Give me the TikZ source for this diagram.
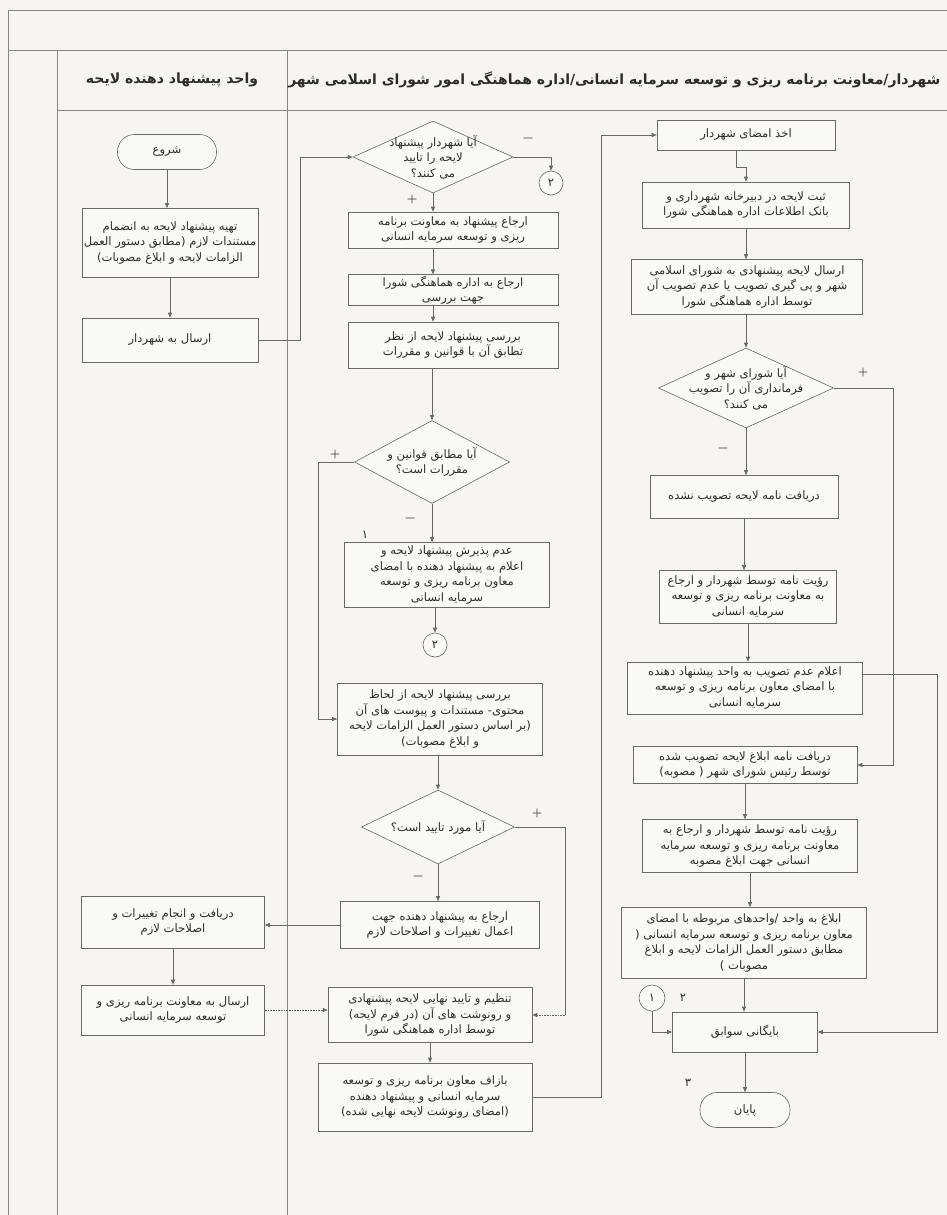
\documentclass[tikz,border=0pt]{standalone}
\usepackage{fontspec}
\usetikzlibrary{arrows.meta,shapes.geometric,calc}
\newfontfamily\arabicfont[Script=Arabic]{DejaVu Sans}
\TeXXeTstate=1
\newcommand{\fs}{\arabicfont\fontsize{11.6}{15.5}\selectfont}
\newcommand{\fh}{\arabicfont\bfseries\fontsize{14}{16}\selectfont}
\definecolor{bgc}{RGB}{246,245,241}
\definecolor{boxc}{RGB}{249,249,246}
\definecolor{linec}{RGB}{105,105,105}
\definecolor{txtc}{RGB}{45,45,45}
\tikzset{
  box/.style={draw=linec, fill=boxc, line width=0.6pt, align=center, inner sep=1pt, font=\fs, text=txtc},
  term/.style={box, rounded corners=17pt},
  dia/.style={draw=linec, fill=boxc, line width=0.6pt, diamond, inner sep=0pt},
  dtext/.style={align=center, font=\fs, text=txtc},
  conn/.style={draw=linec, line width=0.6pt, circle, fill=boxc, inner sep=0pt, minimum size=24pt, font=\fs, text=txtc},
  arr/.style={draw=linec, line width=0.6pt, -{Triangle[length=5pt,width=4pt]}},
  ln/.style={draw=linec, line width=0.6pt},
  lane/.style={draw=linec!80, line width=0.7pt},
  sign/.style={font=\fontsize{12}{12}\selectfont\bfseries, text=txtc},
  num/.style={font=\fs, text=txtc}
}
\begin{document}
\begin{tikzpicture}[x=1pt,y=-1pt]
\useasboundingbox (0,0) rectangle (947,1215);
\fill[bgc] (0,0) rectangle (947,1215);
% lanes
\coordinate (g0) at (8,10);
\coordinate (g1) at (8,50);
\coordinate (g2) at (57,50);
\coordinate (g3) at (287,50);
\coordinate (g4) at (947,50);
\coordinate (g5) at (57,110);
\coordinate (g6) at (947,110);
\coordinate (g7) at (947,10);
\draw[lane] (g0) -- (g7);
\draw[lane] (g1) -- (g4);
\draw[lane] (g5) -- (g6);
\draw[lane] (g0) -- (8,1215);
\draw[lane] (g2) -- (57,1215);
\draw[lane] (g3) -- (287,1215);
\node[font=\fh, text=txtc] (h1) at (172,80) {\beginR واحد پیشنهاد دهنده لایحه\endR};
\node[font=\fh, text=txtc, anchor=east] (h2) at (944,80) {\beginR شهردار/معاونت برنامه ریزی و توسعه سرمایه انسانی/اداره هماهنگی امور شورای اسلامی شهر\endR};

% left lane
\node[term, minimum width=99pt, minimum height=35pt] (start) at (167,152) {\beginR شروع\endR};
\node[box, minimum width=176pt, minimum height=69pt] (L1) at (170,243) {\beginR تهیه پیشنهاد لایحه به انضمام\endR\\\beginR مستندات لازم (مطابق دستور العمل\endR\\\beginR الزامات لایحه و ابلاغ مصوبات)\endR};
\node[box, minimum width=176pt, minimum height=44pt] (L2) at (170,340) {\beginR ارسال به شهردار\endR};
\node[box, minimum width=183pt, minimum height=52pt] (L3) at (173,922) {\beginR دریافت و انجام تغییرات و\endR\\\beginR اصلاحات لازم\endR};
\node[box, minimum width=183pt, minimum height=50pt] (L4) at (173,1010) {\beginR ارسال به معاونت برنامه ریزی و\endR\\\beginR توسعه سرمایه انسانی\endR};

% middle lane
\node[dia, minimum width=160pt, minimum height=72pt, label={[dtext]center:{\beginR آیا شهردار پیشنهاد\endR\\\beginR لایحه را تایید\endR\\\beginR می کنند؟\endR}}] (D1) at (433,157) {};
\node[conn] (C2a) at (551,183) {۲};
\node[box, minimum width=210pt, minimum height=36pt] (M1) at (453,230) {\beginR ارجاع پیشنهاد به معاونت برنامه\endR\\\beginR ریزی و توسعه سرمایه انسانی\endR};
\node[box, minimum width=210pt, minimum height=28pt] (M2) at (453,290) {\beginR ارجاع به اداره هماهنگی شورا\endR\\\beginR جهت بررسی\endR};
\node[box, minimum width=210pt, minimum height=46pt] (M3) at (453,345) {\beginR بررسی پیشنهاد لایحه از نظر\endR\\\beginR تطابق آن با قوانین و مقررات\endR};
\node[dia, minimum width=155pt, minimum height=83pt, label={[dtext]center:{\beginR آیا مطابق قوانین و\endR\\\beginR مقررات است؟\endR}}] (D2) at (432,462) {};
\node[box, minimum width=205pt, minimum height=65pt] (M4) at (447,575) {\beginR عدم پذیرش پیشنهاد لایحه و\endR\\\beginR اعلام به پیشنهاد دهنده با امضای\endR\\\beginR معاون برنامه ریزی و توسعه\endR\\\beginR سرمایه انسانی\endR};
\node[conn] (C2b) at (435,645) {۲};
\node[box, minimum width=205pt, minimum height=72pt] (M5) at (440,719) {\beginR بررسی پیشنهاد لایحه از لحاظ\endR\\\beginR محتوی- مستندات و پیوست های آن\endR\\\beginR (بر اساس دستور العمل الزامات لایحه\endR\\\beginR و ابلاغ مصوبات)\endR};
\node[dia, minimum width=153pt, minimum height=74pt, label={[dtext]center:{\beginR آیا مورد تایید است؟\endR}}] (D3) at (438,827) {};
\node[box, minimum width=199pt, minimum height=47pt] (M6) at (440,925) {\beginR ارجاع به پیشنهاد دهنده جهت\endR\\\beginR اعمال تغییرات و اصلاحات لازم\endR};
\node[box, minimum width=204pt, minimum height=55pt] (M7) at (430,1015) {\beginR تنظیم و تایید نهایی لایحه پیشنهادی\endR\\\beginR و رونوشت های آن (در فرم لایحه)\endR\\\beginR توسط اداره هماهنگی شورا\endR};
\node[box, minimum width=214pt, minimum height=68pt] (M8) at (425,1097) {\beginR بازاف معاون برنامه ریزی و توسعه\endR\\\beginR سرمایه انسانی و پیشنهاد دهنده\endR\\\beginR (امضای رونوشت لایحه نهایی شده)\endR};

% right lane
\node[box, minimum width=178pt, minimum height=30pt] (R1) at (746,135) {\beginR اخذ امضای شهردار\endR};
\node[box, minimum width=207pt, minimum height=46pt] (R2) at (746,205) {\beginR ثبت لایحه در دبیرخانه شهرداری و\endR\\\beginR بانک اطلاعات اداره هماهنگی شورا\endR};
\node[box, minimum width=231pt, minimum height=55pt] (R3) at (747,287) {\beginR ارسال لایحه پیشنهادی به شورای اسلامی\endR\\\beginR شهر و پی گیری تصویب یا عدم تصویب آن\endR\\\beginR توسط اداره هماهنگی شورا\endR};
\node[dia, minimum width=175pt, minimum height=80pt, label={[dtext]center:{\beginR آیا شورای شهر و\endR\\\beginR فرمانداری آن را تصویب\endR\\\beginR می کنند؟\endR}}] (D4) at (746,388) {};
\node[box, minimum width=188pt, minimum height=43pt] (R4) at (744,497) {\beginR دریافت نامه لایحه تصویب نشده\endR};
\node[box, minimum width=177pt, minimum height=53pt] (R5) at (748,597) {\beginR رؤیت نامه توسط شهردار و ارجاع\endR\\\beginR به معاونت برنامه ریزی و توسعه\endR\\\beginR سرمایه انسانی\endR};
\node[box, minimum width=235pt, minimum height=52pt] (R6) at (745,688) {\beginR اعلام عدم تصویب به واحد پیشنهاد دهنده\endR\\\beginR با امضای معاون برنامه ریزی و توسعه\endR\\\beginR سرمایه انسانی\endR};
\node[box, minimum width=224pt, minimum height=37pt] (R7) at (745,765) {\beginR دریافت نامه ابلاغ لایحه تصویب شده\endR\\\beginR توسط رئیس شورای شهر ( مصوبه)\endR};
\node[box, minimum width=215pt, minimum height=53pt] (R8) at (750,846) {\beginR رؤیت نامه توسط شهردار و ارجاع به\endR\\\beginR معاونت برنامه ریزی و توسعه سرمایه\endR\\\beginR انسانی جهت ابلاغ مصوبه\endR};
\node[box, minimum width=245pt, minimum height=71pt] (R9) at (744,943) {\beginR ابلاغ به واحد /واحدهای مربوطه با امضای\endR\\\beginR معاون برنامه ریزی و توسعه سرمایه انسانی (\endR\\\beginR مطابق دستور العمل الزامات لایحه و ابلاغ\endR\\\beginR مصوبات )\endR};
\node[conn, minimum size=26pt] (C1) at (652,998) {۱};
\node[box, minimum width=145pt, minimum height=40pt] (R10) at (745,1032) {\beginR بایگانی سوابق\endR};
\node[term, minimum width=90pt, minimum height=35pt] (End) at (745,1110) {\beginR پایان\endR};

% helper coordinates
\coordinate (xa) at (300,0);
\coordinate (xb) at (318,0);
\coordinate (xc) at (565,0);
\coordinate (xd) at (601,0);
\coordinate (xe) at (893,0);
\coordinate (xf) at (937,0);
\coordinate (r6o) at ($(R6.north east)+(0,13)$);

% connectors left
\draw[arr] (start) -- (start.south |- L1.north);
\draw[arr] (L1.south) -- (L1.south |- L2.north);
\draw[arr] (L2.east) -- (L2.east -| xa) |- (D1.west);
\draw[arr] (L3.south) -- (L3.south |- L4.north);
% middle
\draw[arr] (D1.east) -| (C2a.north);
\draw[arr] (D1.south) -- (D1.south |- M1.north);
\draw[arr] (D1.south |- M1.south) -- (D1.south |- M2.north);
\draw[arr] (D1.south |- M2.south) -- (D1.south |- M3.north);
\draw[arr] (D2.north |- M3.south) -- (D2.north);
\draw[arr] (D2.south) -- (D2.south |- M4.north);
\draw[arr] (C2b.north |- M4.south) -- (C2b.north);
\draw[arr] (D2.west) -- (D2.west -| xb) |- (M5.west);
\draw[arr] (D3.north |- M5.south) -- (D3.north);
\draw[arr] (D3.south) -- (D3.south |- M6.north);
\draw[arr] (M6.west) -- (M6.west -| L3.east);
\draw[ln] (D3.east) -- (D3.east -| xc) -- (xc |- M7.east);
\draw[arr, densely dotted] (xc |- M7.east) -- (M7.east);
\draw[arr, densely dotted] (L4.east) -- (L4.east -| M7.west);
\draw[arr] (M7.south) -- (M7.south |- M8.north);
\draw[arr] (M8.east) -- (M8.east -| xd) |- (R1.west);
% right
\draw[arr] ($(R1.south)+(-10,0)$) -- ++(0,17) -| (R2.north);
\draw[arr] (R2.south) -- (R2.south |- R3.north);
\draw[arr] (D4.north |- R3.south) -- (D4.north);
\draw[arr] (D4.south) -- (D4.south |- R4.north);
\draw[arr] (R4.south) -- (R4.south |- R5.north);
\draw[arr] (R5.south) -- (R5.south |- R6.north);
\draw[arr] (D4.east) -- (D4.east -| xe) |- (R7.east);
\draw[arr] (r6o) -- (r6o -| xf) |- (R10.east);
\draw[arr] (R7.south) -- (R7.south |- R8.north);
\draw[arr] (R8.south) -- (R8.south |- R9.north);
\draw[arr] (R9.south) -- (R9.south |- R10.north);
\draw[arr] (C1.south) |- (R10.west);
\draw[arr] (R10.south) -- (R10.south |- End.north);

% labels
\node[sign] (s1) at (528,140) {−};
\node[sign] (s2) at (412,200) {+};
\node[sign] (s3) at (335,455) {+};
\node[sign] (s4) at (410,520) {−};
\node[num] (n1) at (365,535) {۱};
\node[sign] (s5) at (537,813) {+};
\node[sign] (s6) at (418,878) {−};
\node[sign] (s7) at (863,373) {+};
\node[sign] (s8) at (723,450) {−};
\node[num] (n2) at (683,998) {۲};
\node[num] (n3) at (688,1083) {۳};
\end{tikzpicture}
\end{document}
